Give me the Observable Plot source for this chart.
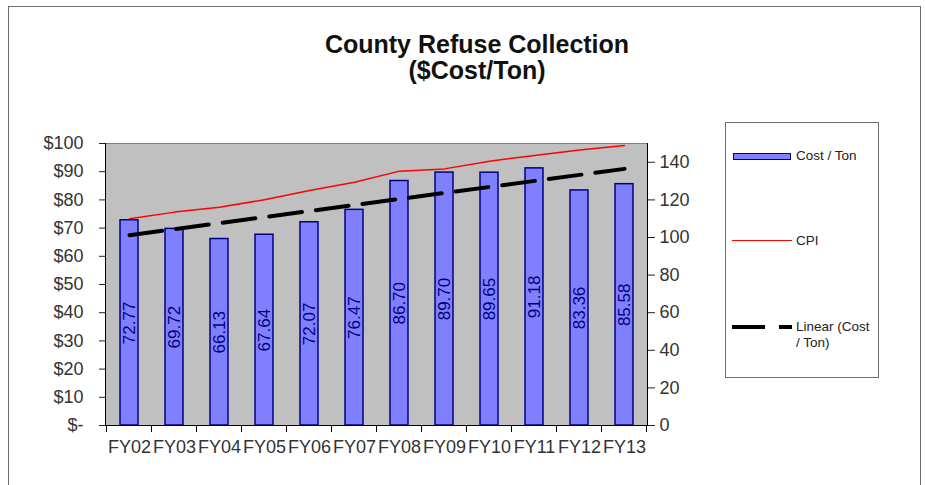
<!DOCTYPE html>
<html>
<head>
<meta charset="utf-8">
<script src="https://cdn.jsdelivr.net/npm/d3@7"></script>
<script src="https://cdn.jsdelivr.net/npm/@observablehq/plot@0.6"></script>
<style>
  body { margin: 0; background: #fff; font-family: Arial, "Liberation Sans", sans-serif; }
  #wrap { position: relative; width: 925px; height: 485px; overflow: hidden; background: #fff; }
  #frame { position: absolute; left: 8px; top: 6px; width: 911px; height: 520px; border: 1px solid #6e6e6e; }
  #chart { position: absolute; left: 0; top: 0; }
  #title { position: absolute; left: 0; width: 954px; top: 31px; text-align: center; font-weight: bold;
           font-size: 25px; line-height: 26px; color: #111; }
  #legend { position: absolute; left: 725px; top: 122px; width: 152px; height: 254px; border: 1px solid #6e6e6e; background: #fff; }
  .lt { position: absolute; font-size: 13.5px; line-height: 16px; color: #222; white-space: nowrap; }
</style>
</head>
<body>
<div id="wrap">
  <div id="frame"></div>
  <div id="chart"></div>
  <div id="title">County Refuse Collection<br>($Cost/Ton)</div>
  <div id="legend"></div>
  <div style="position:absolute;left:733px;top:153px;width:56px;height:5px;background:#8080ff;border:1.5px solid #000080;"></div>
  <div class="lt" style="left:796px;top:148px;">Cost / Ton</div>
  <div style="position:absolute;left:732px;top:240px;width:60px;height:0;border-top:1.5px solid #ff0000;"></div>
  <div class="lt" style="left:796px;top:233px;">CPI</div>
  <svg style="position:absolute;left:732px;top:322px;" width="62" height="10"><line x1="0" x2="60" y1="5" y2="5" stroke="#000" stroke-width="4" stroke-dasharray="33,14"></line></svg>
  <div class="lt" style="left:796px;top:319px;">Linear (Cost</div>
  <div class="lt" style="left:796px;top:335px;">/ Ton)</div>
</div>
<script>
const categories = ["FY02","FY03","FY04","FY05","FY06","FY07","FY08","FY09","FY10","FY11","FY12","FY13"];
const costPerTon = [72.77, 69.72, 66.13, 67.64, 72.07, 76.47, 86.70, 89.70, 89.65, 91.18, 83.36, 85.58];
const cpi = [110.0, 113.5, 116.1, 120.1, 125.0, 129.4, 135.3, 136.5, 140.6, 143.6, 146.6, 148.9];
const trendCategories = ["FY02", "FY13"];
const trendValues = [67.5, 91.0];
const leftTicks = [0, 10, 20, 30, 40, 50, 60, 70, 80, 90, 100];
const rightTicks = [0, 20, 40, 60, 80, 100, 120, 140];
const leftMax = 100, rightMax = 150;

const data = categories.map((c, i) => ({cat: c, cost: costPerTon[i], cpi: cpi[i]}));
const trend = trendCategories.map((c, i) => ({cat: c, v: trendValues[i]}));
const toLeft = v => v * leftMax / rightMax;

function boundaryTicks(index, scales, values, dims) {
  const x = scales.x;
  const bw = x.bandwidth();
  const step = x.step ? x.step() : bw / 0.4;
  const y0 = dims.height - dims.marginBottom;
  const g = d3.create("svg:g").attr("stroke", "#000").attr("stroke-width", 1);
  const pos = categories.map(c => x(c) - (step - bw) / 2);
  pos.push(x(categories[categories.length - 1]) + bw + (step - bw) / 2);
  for (const p of pos) g.append("line").attr("x1", p).attr("x2", p).attr("y1", y0).attr("y2", y0 + 7);
  return g.node();
}

const chart = Plot.plot({
  width: 925,
  height: 485,
  marginLeft: 105,
  marginRight: 278,
  marginTop: 143,
  marginBottom: 60,
  style: {background: "none", fontFamily: "Arial, 'Liberation Sans', sans-serif", color: "#222"},
  x: {domain: categories, paddingInner: 0.6, paddingOuter: 0.3, axis: null},
  y: {domain: [0, leftMax], axis: null},
  marks: [
    Plot.frame({fill: "#c0c0c0", stroke: "#808080"}),
    Plot.barY(data, {x: "cat", y: "cost", fill: "#8080ff", stroke: "#000080", strokeWidth: 1.5}),
    Plot.text(data, {x: "cat", y: d => d.cost / 2, text: d => d.cost.toFixed(2), rotate: -90,
      fill: "#000080", fontSize: 17}),
    Plot.line(data, {x: "cat", y: d => toLeft(d.cpi), stroke: "#ff0000", strokeWidth: 1.5}),
    Plot.line(trend, {x: "cat", y: "v", stroke: "#000", strokeWidth: 4, strokeDasharray: "33,14"}),
    Plot.ruleY([0], {stroke: "#000"}),
    Plot.frame({anchor: "left", stroke: "#000"}),
    Plot.frame({anchor: "right", stroke: "#000"}),
    Plot.axisY(leftTicks, {anchor: "left", tickSize: 6, tickPadding: 16, fontSize: 18, fill: "#333",
      tickFormat: d => d === 0 ? "$-" : "$" + d, label: null}),
    Plot.axisY(rightTicks.map(toLeft), {anchor: "right", tickSize: 7, tickPadding: 5, fontSize: 18, fill: "#333",
      tickFormat: d => String(Math.round(d * rightMax / leftMax)), label: null}),
    Plot.axisX({tickSize: 0, tickPadding: 15, fontSize: 18, fill: "#333", label: null}),
    boundaryTicks
  ]
});
document.getElementById("chart").appendChild(chart);
</script>
</body>
</html>
